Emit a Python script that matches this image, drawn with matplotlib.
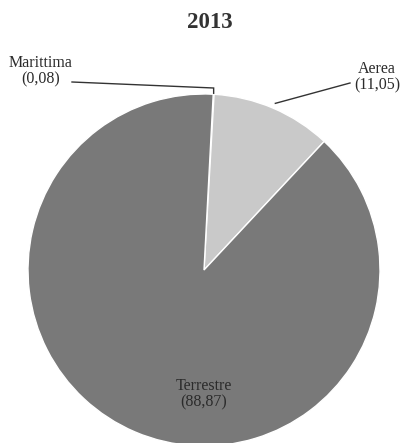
import matplotlib
matplotlib.use("Agg")
import matplotlib.pyplot as plt
import numpy as np

title = "2013"
categories = ["Marittima", "Aerea", "Terrestre"]
values = [0.08, 11.05, 88.87]
value_labels = ["(0,08)", "(11,05)", "(88,87)"]
colors = ["#d0d0d0", "#c9c9c9", "#797979"]

W, H = 406, 443
fig = plt.figure(figsize=(W / 100, H / 100), dpi=100)
ax = fig.add_axes([0, 0, 1, 1])
ax.set_xlim(0, W)
ax.set_ylim(0, H)
ax.set_aspect("equal")
ax.axis("off")

cx, cy, R = 204, H - 270, 176
start = 87
wedges, _ = ax.pie(values, colors=colors, startangle=start, counterclock=False,
                   center=(cx, cy), radius=R, frame=True,
                   wedgeprops=dict(edgecolor="white", linewidth=1.0))
ax.set_xlim(0, W)
ax.set_ylim(0, H)
ax.axis("off")

font = dict(family="Liberation Serif", fontsize=11.5, color="#2b2b2b")

def px(y):
    return H - y

def mid_edge(w, f=1.0):
    a = np.deg2rad((w.theta1 + w.theta2) / 2)
    return cx + R * f * np.cos(a), cy + R * f * np.sin(a)

# Title
ax.text(210, px(22), title, ha="center", va="center",
        family="Liberation Serif", fontsize=16.5, fontweight="bold", color="#333333")

# Marittima
ax.text(41, px(71), f"{categories[0]}\n{value_labels[0]}", ha="center", va="center",
        linespacing=1.0, **font)
ex, ey = mid_edge(wedges[0], 1.0)
ax.plot([72, ex, ex], [px(82), px(88), ey + 1], color="#333333", lw=1.0, solid_joinstyle="miter")

# Aerea
ax.text(377, px(77), f"{categories[1]}\n{value_labels[1]}", ha="center", va="center",
        linespacing=1.0, **font)
ex, ey = mid_edge(wedges[1], 1.03)
ax.plot([350, ex], [px(83), ey], color="#333333", lw=1.0)

# Terrestre
ax.text(204, px(394), f"{categories[2]}\n{value_labels[2]}", ha="center", va="center",
        linespacing=1.0, **font)

fig.savefig("out.png", dpi=100)
